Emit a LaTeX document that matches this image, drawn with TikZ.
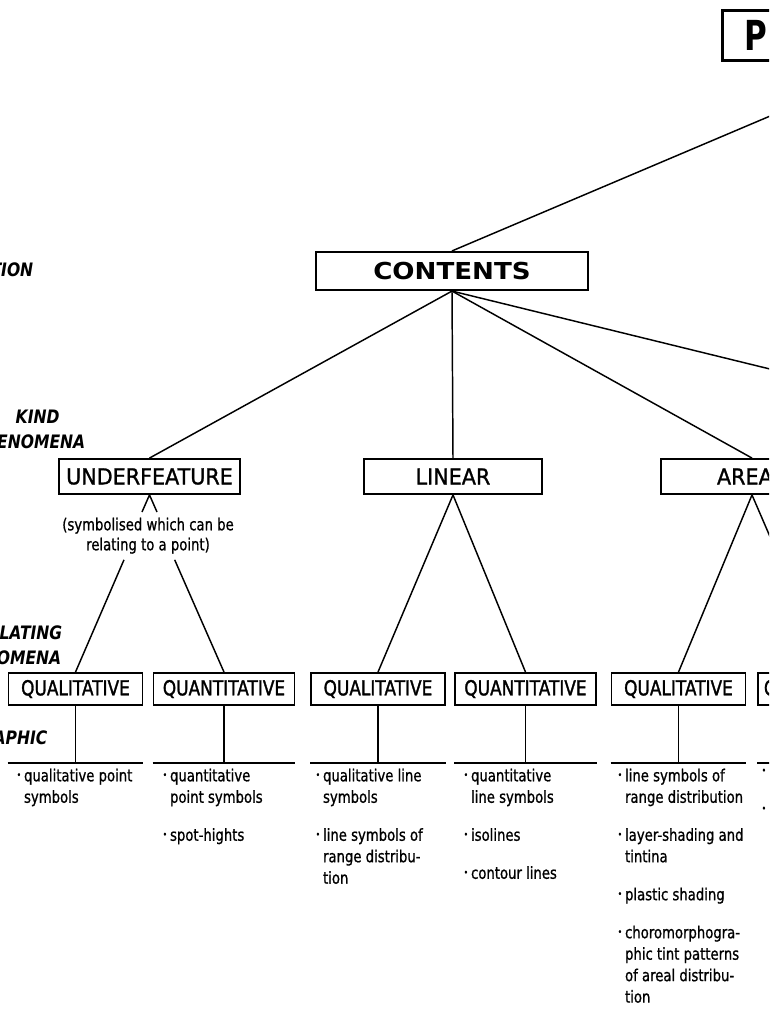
\documentclass[tikz,border=0pt]{standalone}
\usepackage{fontspec}
\setmainfont{DejaVu Sans}
\newfontfamily\headfont[FakeStretch=1.12]{DejaVu Sans}
\newfontfamily\pfont[FakeStretch=0.75]{DejaVu Sans}
\newfontfamily\boxfont[FakeStretch=0.94, FakeBold=1.2]{DejaVu Sans}
\newfontfamily\qfont[FakeStretch=0.82, FakeBold=1.4]{DejaVu Sans}
\newfontfamily\txtfont[FakeStretch=0.8, FakeBold=0.9]{DejaVu Sans}
\newfontfamily\sidefont[FakeStretch=0.84]{DejaVu Sans}
\newcommand{\dotitem}{\makebox[5.5pt][l]{\raisebox{.35ex}{\scriptsize •}}}
\newcommand{\cont}{\hspace*{5.5pt}}
\tikzset{
  every picture/.style={x=0.75pt, y=-0.75pt, line width=1.1pt}}

\begin{document}
\begin{tikzpicture}
    \tikzstyle{kindbox}=[draw, line width=1.4pt, minimum height=26.25pt, inner sep=0pt,
      font=\boxfont\fontsize{16.5}{18}\selectfont]
    \tikzstyle{relbox}=[draw, line width=1.4pt, minimum height=24pt, inner sep=0pt,
      font=\qfont\fontsize{15.5}{17}\selectfont]
    \tikzstyle{items}=[anchor=north west, inner sep=0pt, align=left,
      font=\txtfont\fontsize{12.4}{16.1}\selectfont]
    \tikzstyle{side}=[inner sep=0pt, font=\sidefont\bfseries\itshape\fontsize{13.9}{15}\selectfont]

    \useasboundingbox (0,0) rectangle (769,1018);
    \clip (0,0) rectangle (769,1018);

    % labels on the left margin
    \node[side, anchor=east] (lblA) at (34,270)  {TION};
    \node[side, anchor=west] (lblB) at (15,417)  {KIND};
    \node[side, anchor=east] (lblC) at (86,442)  {ENOMENA};
    \node[side, anchor=east] (lblD) at (63,633)  {LATING};
    \node[side, anchor=east] (lblE) at (62,658)  {OMENA};
    \node[side, anchor=east] (lblF) at (48,738)  {APHIC};

    \node[draw, line width=2pt, anchor=north west, minimum width=264pt, minimum height=37.5pt,
      inner xsep=16.5pt, inner ysep=0pt, text width=231pt, align=left,
      font=\pfont\bfseries\fontsize{31}{31}\selectfont] (prim) at (721,9) {P};

    \node[draw, line width=1.6pt, minimum width=204pt, minimum height=28.5pt, inner sep=0pt,
      font=\headfont\bfseries\fontsize{17.5}{18}\selectfont] (contents) at (452,271) {CONTENTS};

    \begin{scope}
      \node[kindbox, minimum width=135.75pt] (under)  at (149.5,476.5) {UNDERFEATURE};
      \node[kindbox, minimum width=133.5pt]  (linear) at (453,476.5)   {LINEAR};
      \node[kindbox, minimum width=136.5pt, text width=52.5pt, align=left] (areal) at (752,476.5) {AREA};
      \coordinate (kindR) at (1137,459);
    \end{scope}

    \node[anchor=north, inner sep=0pt, align=center, font=\txtfont\fontsize{12.4}{15}\selectfont]
      (unote) at (148,517) {(symbolised which can be\\relating to a point)};

    \begin{scope}
      \node[relbox, minimum width=100.5pt]  (qlA) at (75.5,689)  {QUALITATIVE};
      \node[relbox, minimum width=105.75pt] (qnA) at (224,689)   {QUANTITATIVE};
      \node[relbox, minimum width=100.5pt]  (qlB) at (378,689)   {QUALITATIVE};
      \node[relbox, minimum width=105.75pt] (qnB) at (525.5,689) {QUANTITATIVE};
      \node[relbox, minimum width=100.5pt]  (qlC) at (678.5,689) {QUALITATIVE};
      \node[relbox, anchor=west, minimum width=105.75pt, inner xsep=4.5pt, text width=96.75pt,
        align=left] (qnC) at (757,689) {Q};
    \end{scope}

    \begin{scope}
      \draw (prim.south) -- (contents.north);
      \draw (contents.south) -- (under.north);
      \draw (contents.south) -- (linear.north);
      \draw (contents.south) -- (areal.north);
      \draw (contents.south) -- (kindR);
    \end{scope}

    \draw ([xshift=-4.5pt, yshift=3.75pt]unote.north) -- (under.south)
      -- ([xshift=6.75pt, yshift=3.75pt]unote.north);
    \draw ([xshift=-18pt, yshift=-4pt]unote.south) -- (qlA.north);
    \draw ([xshift=20pt, yshift=-4pt]unote.south) -- (qnA.north);
    \draw (linear.south) -- (qlB.north);
    \draw (linear.south) -- (qnB.north);
    \draw (areal.south) -- (qlC.north);
    \draw (areal.south) -- (qnC.north);

    \coordinate (bar) at (0,763);
    \begin{scope}
      \draw (qlA.south) -- (qlA.south |- bar);  \draw (qlA.west |- bar) -- (qlA.east |- bar);
      \draw (qnA.south) -- (qnA.south |- bar);  \draw (qnA.west |- bar) -- (qnA.east |- bar);
      \draw (qlB.south) -- (qlB.south |- bar);  \draw (qlB.west |- bar) -- (qlB.east |- bar);
      \draw (qnB.south) -- (qnB.south |- bar);  \draw (qnB.west |- bar) -- (qnB.east |- bar);
      \draw (qlC.south) -- (qlC.south |- bar);  \draw (qlC.west |- bar) -- (qlC.east |- bar);
      \draw (qnC.south) -- (qnC.south |- bar);  \draw (qnC.west |- bar) -- (qnC.east |- bar);
    \end{scope}

    % symbol lists
    \node[items] (itA) at (16,768)  {\dotitem qualitative point\\\cont symbols};
    \node[items] (itB) at (162,768) {\dotitem quantitative\\\cont point symbols\\[12.4pt]\dotitem spot-hights};
    \node[items] (itC) at (315,768) {\dotitem qualitative line\\\cont symbols\\[12.4pt]%
      \dotitem line symbols of\\\cont range distribu-\\\cont tion};
    \node[items] (itD) at (463,768) {\dotitem quantitative\\\cont line symbols\\[12.4pt]%
      \dotitem isolines\\[12.4pt]\dotitem contour lines};
    \node[items] (itE) at (617,768) {\dotitem line symbols of\\\cont range distribution\\[12.4pt]%
      \dotitem layer-shading and\\\cont tintina\\[12.4pt]\dotitem plastic shading\\[12.4pt]%
      \dotitem choromorphogra-\\\cont phic tint patterns\\\cont of areal distribu-\\\cont tion};
    \node[items] (itF) at (761,768) {\dotitem\\[12.4pt]\dotitem};
\end{tikzpicture}
\end{document}
